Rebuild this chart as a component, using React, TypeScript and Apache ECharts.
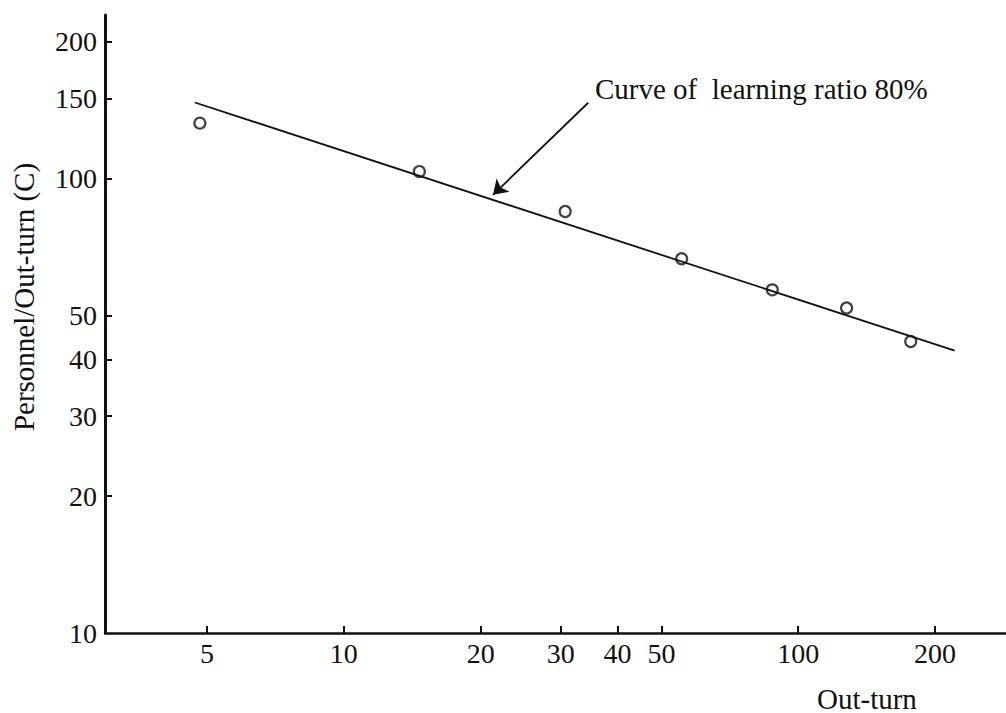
import React, { useEffect, useRef } from "react";
import * as echarts from "echarts";

// ---- data (log-log chart) ----
const xTickValues = [5, 10, 20, 30, 40, 50, 100, 200];
const yTickValues = [20, 30, 40, 50, 100, 150, 200];
const yLabelValues = [10, 20, 30, 40, 50, 100, 150, 200];

const outTurn = [4.82, 14.66, 30.7, 55.4, 87.7, 127.8, 176.9];
const personnelPerOutTurn = [132.4, 103.6, 84.6, 66.6, 56.9, 51.9, 43.8];

const curveX = [4.7, 221];
const curveY = [147, 41.8];

const arrowFrom = [34.5, 146.8];
const arrowTo = [21.3, 92.1];

const curveLabel = "Curve of  learning ratio 80%";
const xTitle = "Out-turn";
const yTitle = "Personnel/Out-turn (C)";

const FONT = "'Liberation Serif', 'Times New Roman', serif";
const INK = "#111";

export default function App() {
  const ref = useRef<HTMLDivElement>(null);

  useEffect(() => {
    document.body.style.margin = "0";
    if (!ref.current) return;
    const chart = echarts.init(ref.current, undefined, { renderer: "svg" });

    const points = outTurn.map((x, i) => [x, personnelPerOutTurn[i]]);
    const curve = curveX.map((x, i) => [x, curveY[i]]);

    chart.setOption({
      animation: false,
      backgroundColor: "#fff",
      grid: { left: 105, right: 0, top: 15, bottom: 80, containLabel: false },
      xAxis: {
        type: "log",
        logBase: 10,
        min: 2.98,
        max: 286.7,
        axisLine: { show: true, lineStyle: { color: INK, width: 2.5 } },
        axisTick: {
          show: true,
          inside: true,
          length: 7,
          customValues: xTickValues,
          lineStyle: { color: INK, width: 2 },
        },
        axisLabel: {
          show: true,
          customValues: xTickValues,
          margin: 6,
          color: INK,
          fontFamily: FONT,
          fontSize: 28,
        },
        splitLine: { show: false },
        minorTick: { show: false },
      },
      yAxis: {
        type: "log",
        logBase: 10,
        min: 10,
        max: 229,
        axisLine: { show: true, lineStyle: { color: INK, width: 3 } },
        axisTick: {
          show: true,
          inside: true,
          length: 7,
          customValues: yTickValues,
          lineStyle: { color: INK, width: 2 },
        },
        axisLabel: {
          show: true,
          customValues: yLabelValues,
          margin: 8,
          color: INK,
          fontFamily: FONT,
          fontSize: 28,
        },
        splitLine: { show: false },
      },
      series: [
        {
          type: "line",
          data: curve,
          symbol: "none",
          lineStyle: { color: INK, width: 1.8 },
          silent: true,
          markLine: {
            silent: true,
            symbol: ["none", "arrow"],
            symbolSize: 14,
            lineStyle: { color: INK, width: 1.8, type: "solid" },
            itemStyle: { color: INK },
            label: { show: false },
            data: [[{ coord: arrowFrom }, { coord: arrowTo }]],
          },
        },
        {
          type: "scatter",
          data: points,
          symbol: "circle",
          symbolSize: 11,
          itemStyle: { color: "#fff", borderColor: INK, borderWidth: 2.2 },
        },
      ],
      graphic: [
        {
          type: "text",
          left: 595,
          top: 74,
          style: {
            text: curveLabel,
            fontFamily: FONT,
            fontSize: 29,
            fill: INK,
          },
        },
        {
          type: "text",
          left: 817,
          top: 684,
          style: {
            text: xTitle,
            fontFamily: FONT,
            fontSize: 29,
            fill: INK,
          },
        },
        {
          type: "text",
          x: 24,
          y: 297,
          rotation: Math.PI / 2,
          style: {
            text: yTitle,
            fontFamily: FONT,
            fontSize: 29,
            fill: INK,
            align: "center",
            verticalAlign: "middle",
          },
        },
      ],
    });

    return () => chart.dispose();
  }, []);

  return <div ref={ref} style={{ width: 1006, height: 713 }} />;
}
